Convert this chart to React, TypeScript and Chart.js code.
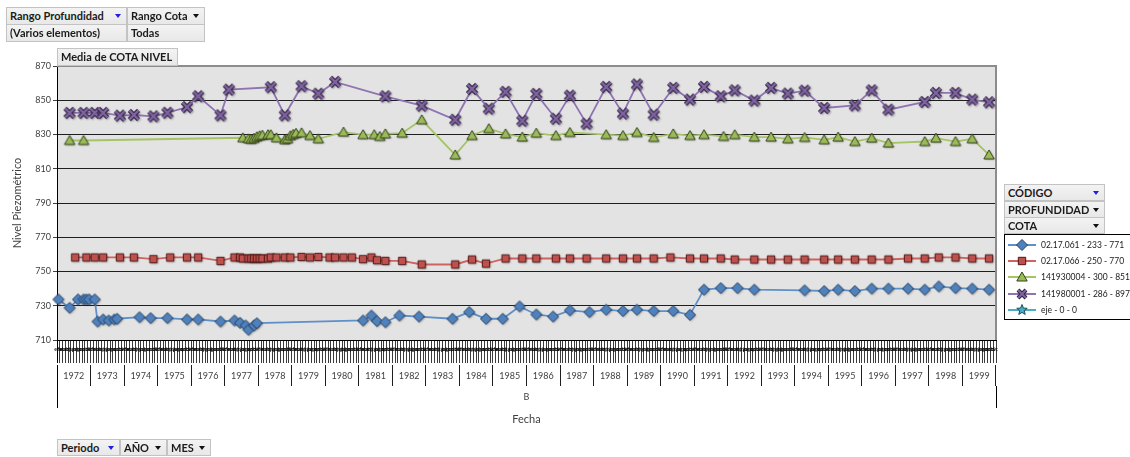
import React, { useEffect, useRef } from "react";
import { Chart, registerables } from "chart.js";

Chart.register(...registerables);

const FONT = "Lato, 'Open Sans', sans-serif";

// Axis categories
const years = [
  "1972", "1973", "1974", "1975", "1976", "1977", "1978", "1979", "1980", "1981",
  "1982", "1983", "1984", "1985", "1986", "1987", "1988", "1989", "1990", "1991",
  "1992", "1993", "1994", "1995", "1996", "1997", "1998", "1999",
];
const monthNames = ["ene", "feb", "mar", "abr", "may", "jun", "jul", "ago", "sep", "oct", "nov", "dic"];

const yMin = 710;
const yMax = 870;
const yStep = 20;

// Media de COTA NIVEL por código (año-mes, nivel)
const serie061: [string, number][] = [
  ["1972-01", 733.7], ["1972-05", 728.8], ["1972-08", 733.7], ["1972-10", 733.7], ["1972-11", 733.7],
  ["1972-12", 733.7], ["1973-02", 733.7], ["1973-03", 720.8], ["1973-05", 722.0], ["1973-07", 721.4],
  ["1973-09", 722.0], ["1973-10", 722.4], ["1974-06", 723.3], ["1974-10", 722.8], ["1975-04", 722.8],
  ["1975-11", 722.0], ["1976-03", 722.0], ["1976-11", 720.8], ["1977-04", 721.4], ["1977-06", 720.0],
  ["1977-08", 718.5], ["1977-09", 716.0], ["1977-11", 718.5], ["1977-12", 719.8], ["1981-02", 721.4],
  ["1981-05", 724.3], ["1981-07", 721.0], ["1981-10", 720.4], ["1982-03", 724.3], ["1982-10", 723.7],
  ["1983-10", 722.4], ["1984-04", 726.3], ["1984-10", 722.4], ["1985-04", 722.4], ["1985-10", 729.6],
  ["1986-04", 724.9], ["1986-10", 723.7], ["1987-04", 727.3], ["1987-11", 726.3], ["1988-05", 727.7],
  ["1988-11", 726.9], ["1989-04", 727.7], ["1989-10", 726.9], ["1990-05", 726.9], ["1990-11", 724.7],
  ["1991-04", 739.4], ["1991-10", 740.3], ["1992-04", 740.3], ["1992-10", 739.4], ["1994-04", 739.0],
  ["1994-11", 738.6], ["1995-04", 739.4], ["1995-10", 738.6], ["1996-04", 740.0], ["1996-10", 740.0],
  ["1997-05", 740.0], ["1997-11", 739.4], ["1998-04", 741.3], ["1998-10", 740.3], ["1999-04", 740.0],
  ["1999-10", 739.4],
];

const serie066: [string, number][] = [
  ["1972-07", 758.2], ["1972-11", 758.2], ["1973-02", 758.2], ["1973-05", 758.2], ["1973-11", 758.2],
  ["1974-04", 758.2], ["1974-11", 757.2], ["1975-05", 758.2], ["1975-11", 758.2], ["1976-03", 758.2],
  ["1976-11", 756.2], ["1977-04", 758.2], ["1977-06", 758.2], ["1977-07", 757.6], ["1977-09", 757.6],
  ["1977-10", 757.6], ["1977-11", 757.6], ["1977-12", 757.6], ["1978-01", 757.6], ["1978-02", 757.6],
  ["1978-04", 757.6], ["1978-05", 758.2], ["1978-07", 758.2], ["1978-10", 758.2], ["1978-12", 758.2],
  ["1979-04", 758.5], ["1979-07", 758.2], ["1979-10", 758.5], ["1980-02", 758.2], ["1980-04", 758.2],
  ["1980-07", 758.2], ["1980-10", 758.2], ["1981-02", 757.2], ["1981-05", 758.2], ["1981-07", 756.6],
  ["1981-10", 756.2], ["1982-04", 756.2], ["1982-11", 754.1], ["1983-11", 754.1], ["1984-05", 757.0],
  ["1984-10", 754.6], ["1985-05", 757.6], ["1985-11", 757.6], ["1986-04", 757.6], ["1986-11", 757.6],
  ["1987-04", 757.6], ["1987-10", 757.6], ["1988-05", 757.6], ["1988-11", 757.6], ["1989-04", 757.6],
  ["1989-10", 757.6], ["1990-04", 758.2], ["1990-11", 757.6], ["1991-04", 757.6], ["1991-10", 757.6],
  ["1992-03", 757.0], ["1992-10", 757.0], ["1993-04", 757.0], ["1993-10", 757.0], ["1994-04", 757.0],
  ["1994-11", 757.0], ["1995-04", 757.0], ["1995-10", 757.0], ["1996-04", 757.0], ["1996-10", 757.0],
  ["1997-05", 757.6], ["1997-11", 757.6], ["1998-04", 758.2], ["1998-10", 758.2], ["1999-04", 757.6],
  ["1999-10", 757.6],
];

const serie141930004: [string, number][] = [
  ["1972-05", 826.5], ["1972-10", 826.5], ["1977-07", 828.1], ["1977-09", 827.5], ["1977-10", 827.2],
  ["1977-11", 827.8], ["1977-12", 828.7], ["1978-01", 829.3], ["1978-02", 829.6], ["1978-04", 829.9],
  ["1978-05", 829.9], ["1978-07", 828.1], ["1978-10", 826.9], ["1978-11", 827.5], ["1978-12", 829.3],
  ["1979-01", 830.1], ["1979-02", 830.7], ["1979-04", 831.0], ["1979-07", 829.4], ["1979-10", 827.5],
  ["1980-07", 831.4], ["1981-02", 829.9], ["1981-06", 829.9], ["1981-08", 828.9], ["1981-10", 830.4],
  ["1982-04", 830.8], ["1982-11", 838.6], ["1983-11", 818.1], ["1984-05", 829.4], ["1984-11", 833.4],
  ["1985-05", 830.4], ["1985-11", 828.5], ["1986-04", 830.8], ["1986-11", 829.4], ["1987-04", 831.2],
  ["1988-05", 829.9], ["1988-11", 829.4], ["1989-04", 831.2], ["1989-10", 828.3], ["1990-05", 830.4],
  ["1990-11", 829.4], ["1991-04", 829.9], ["1991-11", 828.9], ["1992-03", 829.9], ["1992-10", 828.5],
  ["1993-04", 828.5], ["1993-10", 827.5], ["1994-04", 828.3], ["1994-11", 826.9], ["1995-04", 828.5],
  ["1995-10", 825.9], ["1996-04", 827.9], ["1996-10", 825.0], ["1997-11", 825.9], ["1998-03", 827.9],
  ["1998-10", 825.9], ["1999-04", 827.5], ["1999-10", 818.1],
];

const serie141980001: [string, number][] = [
  ["1972-05", 842.6], ["1972-10", 842.6], ["1973-02", 842.6], ["1973-05", 842.6], ["1973-11", 841.0],
  ["1974-04", 841.4], ["1974-11", 840.6], ["1975-04", 842.7], ["1975-11", 846.0], ["1976-03", 852.3],
  ["1976-11", 841.2], ["1977-02", 856.2], ["1978-05", 857.6], ["1978-10", 841.2], ["1979-04", 858.2],
  ["1979-10", 853.8], ["1980-04", 860.7], ["1981-10", 852.3], ["1982-11", 846.8], ["1983-11", 838.6],
  ["1984-05", 856.6], ["1984-11", 845.1], ["1985-05", 854.9], ["1985-11", 838.0], ["1986-04", 853.7],
  ["1986-11", 839.2], ["1987-04", 852.7], ["1987-10", 836.3], ["1988-05", 857.8], ["1988-11", 842.2],
  ["1989-04", 859.2], ["1989-10", 841.6], ["1990-05", 857.2], ["1990-11", 850.4], ["1991-04", 857.8],
  ["1991-10", 852.3], ["1992-03", 855.8], ["1992-10", 849.8], ["1993-04", 857.2], ["1993-10", 853.9],
  ["1994-04", 855.6], ["1994-11", 845.5], ["1995-10", 847.0], ["1996-04", 855.8], ["1996-10", 844.5],
  ["1997-11", 849.0], ["1998-03", 854.3], ["1998-10", 854.3], ["1999-04", 850.4], ["1999-10", 848.8],
];

const serieEje: [string, number][] = [];

type Shape = "diamond" | "square" | "triangle" | "cross" | "star";

interface SeriesStyle {
  name: string;
  points: [string, number][];
  shape: Shape;
  fill: string;
  stroke: string;
  line: string;
}

const seriesList: SeriesStyle[] = [
  { name: "02.17.061 - 233 - 771", points: serie061, shape: "diamond", fill: "#4f81bd", stroke: "#253f60", line: "#5f8fc8" },
  { name: "02.17.066 - 250 - 770", points: serie066, shape: "square", fill: "#c0504d", stroke: "#4a1614", line: "#d0625f" },
  { name: "141930004 - 300 - 851", points: serie141930004, shape: "triangle", fill: "#9bbb59", stroke: "#34431a", line: "#a5c466" },
  { name: "141980001 - 286 - 897", points: serie141980001, shape: "cross", fill: "#8064a2", stroke: "#2f2340", line: "#8e74b0" },
  { name: "eje - 0 - 0", points: serieEje, shape: "star", fill: "#4bacc6", stroke: "#1e4f5c", line: "#4bacc6" },
];

// One category per month of every year
const monthKeys = years.flatMap((y) => monthNames.map((_, m) => `${y}-${String(m + 1).padStart(2, "0")}`));
const monthLabels = years.flatMap(() => monthNames);

function toMonthly(points: [string, number][]): (number | null)[] {
  const out: (number | null)[] = monthKeys.map(() => null);
  for (const [key, value] of points) {
    const idx = monthKeys.indexOf(key);
    if (idx >= 0) out[idx] = value;
  }
  return out;
}

function starPath(cx: number, cy: number, ro: number, ri: number): [number, number][] {
  const pts: [number, number][] = [];
  for (let i = 0; i < 10; i++) {
    const r = i % 2 === 0 ? ro : ri;
    const a = -Math.PI / 2 + (i * Math.PI) / 5;
    pts.push([cx + r * Math.cos(a), cy + r * Math.sin(a)]);
  }
  return pts;
}

function shapePoints(shape: Shape, c: number): [number, number][] {
  switch (shape) {
    case "diamond":
      return [[c, c - 5.5], [c + 5.5, c], [c, c + 5.5], [c - 5.5, c]];
    case "square":
      return [[c - 3.7, c - 3.7], [c + 3.7, c - 3.7], [c + 3.7, c + 3.7], [c - 3.7, c + 3.7]];
    case "triangle":
      return [[c, c - 5], [c + 5.2, c + 4], [c - 5.2, c + 4]];
    case "star":
      return starPath(c, c, 5.5, 2.4);
    default:
      return [];
  }
}

function makeMarker(shape: Shape, fill: string, stroke: string): HTMLCanvasElement {
  const size = 16;
  const c = size / 2;
  const cv = document.createElement("canvas");
  cv.width = size;
  cv.height = size;
  const g = cv.getContext("2d")!;
  g.shadowColor = "rgba(0,0,0,0.3)";
  g.shadowBlur = 2;
  g.shadowOffsetX = 1;
  g.shadowOffsetY = 1;
  if (shape === "cross") {
    const d = 4.6;
    g.beginPath();
    g.moveTo(c - d, c - d);
    g.lineTo(c + d, c + d);
    g.moveTo(c + d, c - d);
    g.lineTo(c - d, c + d);
    g.lineCap = "butt";
    g.strokeStyle = stroke;
    g.lineWidth = 4.4;
    g.stroke();
    g.shadowColor = "transparent";
    g.strokeStyle = fill;
    g.lineWidth = 2.4;
    g.stroke();
    return cv;
  }
  const pts = shapePoints(shape, c);
  g.beginPath();
  pts.forEach(([x, y], i) => (i === 0 ? g.moveTo(x, y) : g.lineTo(x, y)));
  g.closePath();
  g.fillStyle = fill;
  g.fill();
  g.shadowColor = "transparent";
  g.strokeStyle = stroke;
  g.lineWidth = 1;
  g.stroke();
  return cv;
}

// Plot area background and its grey top/right frame
const plotFrame = {
  id: "plotFrame",
  beforeDraw(chart: Chart) {
    const { ctx, chartArea: a } = chart;
    ctx.save();
    ctx.fillStyle = "#e3e3e3";
    ctx.fillRect(a.left, a.top, a.right - a.left, a.bottom - a.top);
    ctx.restore();
  },
  beforeDatasetsDraw(chart: Chart) {
    const { ctx, chartArea: a } = chart;
    ctx.save();
    ctx.strokeStyle = "#8c8c8c";
    ctx.lineWidth = 2;
    ctx.beginPath();
    ctx.moveTo(a.left, a.top);
    ctx.lineTo(a.right, a.top);
    ctx.lineTo(a.right, a.bottom);
    ctx.stroke();
    ctx.restore();
  },
};

function edgeColor(first: string, rest: string, last: string, count: number) {
  return (c: any) => (c.index === 0 ? first : c.index >= count ? last : rest);
}

function ChartCanvas() {
  const ref = useRef<HTMLCanvasElement | null>(null);
  useEffect(() => {
    if (!ref.current) return;
    const datasets = seriesList.map((s) => ({
      label: s.name,
      data: toMonthly(s.points),
      borderColor: s.line,
      backgroundColor: s.fill,
      borderWidth: 1.8,
      pointStyle: makeMarker(s.shape, s.fill, s.stroke) as any,
      pointRadius: 5,
      spanGaps: true,
      tension: 0,
      xAxisID: "x",
      yAxisID: "y",
    }));
    const chart = new Chart(ref.current, {
      type: "line",
      data: { labels: monthLabels, datasets },
      plugins: [plotFrame],
      options: {
        animation: false,
        responsive: false,
        devicePixelRatio: 1,
        events: [],
        layout: { padding: { top: 66, right: 134, bottom: 31, left: 0 } },
        plugins: { legend: { display: false }, tooltip: { enabled: false }, title: { display: false } },
        scales: {
          x: {
            type: "category",
            position: "bottom",
            weight: 0,
            offset: true,
            grid: {
              display: true,
              offset: true,
              drawOnChartArea: false,
              drawTicks: true,
              tickLength: 23,
              color: edgeColor("#000000", "#3c3c3c", "#8c8c8c", monthLabels.length),
              lineWidth: 1,
            },
            border: { display: true, color: "#000000", width: 1 },
            ticks: {
              autoSkip: false,
              maxRotation: 0,
              minRotation: 0,
              padding: -17,
              color: "#000000",
              font: { family: FONT, size: 5 },
            },
            afterFit: (s: any) => {
              s.height = 25;
            },
          },
          x2: {
            type: "category",
            labels: years,
            position: "bottom",
            weight: 1,
            offset: true,
            grid: {
              display: true,
              offset: true,
              drawOnChartArea: false,
              drawTicks: true,
              tickLength: 21,
              color: edgeColor("#000000", "#1e1e1e", "#8c8c8c", years.length),
              lineWidth: 1,
            },
            border: { display: false },
            ticks: {
              autoSkip: false,
              maxRotation: 0,
              minRotation: 0,
              padding: -15,
              color: "#404040",
              font: { family: FONT, size: 9 },
            },
            afterFit: (s: any) => {
              s.height = 21;
            },
          },
          x3: {
            type: "category",
            labels: ["B"],
            position: "bottom",
            weight: 2,
            offset: true,
            grid: {
              display: true,
              offset: true,
              drawOnChartArea: false,
              drawTicks: true,
              tickLength: 22,
              color: edgeColor("#000000", "#000000", "#8c8c8c", 1),
              lineWidth: 1,
            },
            border: { display: false },
            ticks: {
              autoSkip: false,
              maxRotation: 0,
              minRotation: 0,
              padding: -16,
              color: "#404040",
              font: { family: FONT, size: 9 },
            },
            title: {
              display: true,
              text: "Fecha",
              color: "#404040",
              font: { family: FONT, size: 11 },
              padding: { top: 0, bottom: 0 },
            },
            afterFit: (s: any) => {
              s.height = 40;
            },
          },
          y: {
            type: "linear",
            position: "left",
            min: yMin,
            max: yMax,
            ticks: {
              stepSize: yStep,
              padding: 2,
              color: "#404040",
              font: { family: FONT, size: 9 },
            },
            grid: {
              display: true,
              drawTicks: true,
              tickLength: 4,
              tickColor: "#404040",
              color: (c: any) => (c.tick && c.tick.value === yMax ? "rgba(0,0,0,0)" : "#1e1e1e"),
              lineWidth: 1,
            },
            border: { display: true, color: "#000000", width: 1 },
            title: {
              display: true,
              text: "Nivel Piezométrico",
              color: "#404040",
              font: { family: FONT, size: 11 },
              padding: { top: 11, bottom: 0 },
            },
            afterFit: (s: any) => {
              s.width = 57;
            },
          },
        },
      } as any,
    });
    return () => chart.destroy();
  }, []);
  return <canvas ref={ref} width={1130} height={457} style={{ position: "absolute", left: 0, top: 0, width: 1130, height: 457 }} />;
}

function FieldButton(props: { x: number; y: number; w: number; h: number; text: string; arrow?: string }) {
  const { x, y, w, h, text, arrow } = props;
  return (
    <div
      style={{
        position: "absolute",
        left: x,
        top: y,
        width: w,
        height: h,
        boxSizing: "border-box",
        border: "1px solid #c3c3c3",
        background: "linear-gradient(#f3f3f3, #e8e8e8)",
        font: `bold 11px ${FONT}`,
        color: "#1b1b1b",
        lineHeight: `${h - 2}px`,
        paddingLeft: 3,
        whiteSpace: "nowrap",
        overflow: "hidden",
      }}
    >
      {text}
      {arrow && (
        <span
          style={{
            position: "absolute",
            right: 5,
            top: Math.round((h - 2) / 2 - 2),
            width: 0,
            height: 0,
            borderLeft: "3.5px solid transparent",
            borderRight: "3.5px solid transparent",
            borderTop: `4px solid ${arrow}`,
          }}
        />
      )}
    </div>
  );
}

function LegendMarker({ s }: { s: SeriesStyle }) {
  const c = 14;
  const cy = 6;
  let mark: React.ReactNode;
  if (s.shape === "cross") {
    const d = 4;
    const path = `M${c - d},${cy - d}L${c + d},${cy + d}M${c + d},${cy - d}L${c - d},${cy + d}`;
    mark = (
      <g>
        <path d={path} stroke={s.stroke} strokeWidth={4} />
        <path d={path} stroke={s.fill} strokeWidth={2} />
      </g>
    );
  } else {
    const pts = shapePoints(s.shape, 8).map(([x, y]) => `${x - 8 + c},${y - 8 + cy}`).join(" ");
    mark = <polygon points={pts} fill={s.fill} stroke={s.stroke} strokeWidth={1} />;
  }
  return (
    <svg width={30} height={12} style={{ position: "absolute", left: 2, top: 0 }}>
      <line x1={0} y1={cy} x2={28} y2={cy} stroke={s.line} strokeWidth={2} />
      {mark}
    </svg>
  );
}

function Legend() {
  return (
    <div
      style={{
        position: "absolute",
        left: 1004,
        top: 234,
        width: 140,
        height: 86,
        boxSizing: "border-box",
        border: "1px solid #000",
        background: "#ffffff",
      }}
    >
      {seriesList.map((s, i) => (
        <div key={s.name} style={{ position: "absolute", left: 1, top: 4 + i * 16.2, height: 12, width: 135 }}>
          <LegendMarker s={s} />
          <span
            style={{
              position: "absolute",
              left: 35,
              top: 0,
              font: `8.5px ${FONT}`,
              lineHeight: "12px",
              color: "#1a1a1a",
              whiteSpace: "nowrap",
            }}
          >
            {s.name}
          </span>
        </div>
      ))}
    </div>
  );
}

export default function App() {
  return (
    <div style={{ position: "absolute", left: 0, top: 0, width: 1130, height: 457, overflow: "hidden", background: "#fff" }}>
      <ChartCanvas />
      <FieldButton x={6} y={7} w={121} h={18} text="Rango Profundidad" arrow="#2020e0" />
      <FieldButton x={127} y={7} w={78} h={18} text="Rango Cota" arrow="#111" />
      <FieldButton x={6} y={24} w={121} h={18} text="(Varios elementos)" />
      <FieldButton x={127} y={24} w={78} h={18} text="Todas" />
      <FieldButton x={57} y={48} w={121} h={18} text="Media de COTA NIVEL" />
      <FieldButton x={1004} y={184} w={101} h={17} text="CÓDIGO" arrow="#2020e0" />
      <FieldButton x={1004} y={201} w={101} h={17} text="PROFUNDIDAD" arrow="#111" />
      <FieldButton x={1004} y={217} w={101} h={17} text="COTA" arrow="#111" />
      <Legend />
      <FieldButton x={57} y={439} w={63} h={17} text="Periodo" arrow="#2020e0" />
      <FieldButton x={120} y={439} w={47} h={17} text="AÑO" arrow="#111" />
      <FieldButton x={167} y={439} w={44} h={17} text="MES" arrow="#111" />
    </div>
  );
}
